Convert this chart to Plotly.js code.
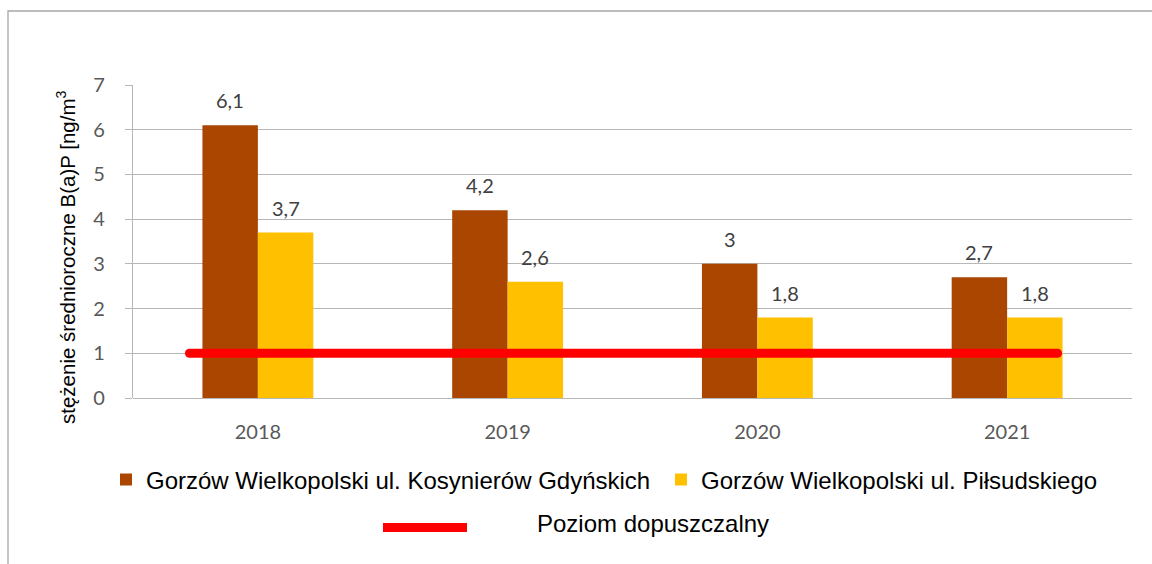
<!DOCTYPE html>
<html>
<head>
<meta charset="utf-8">
<script src="https://cdn.plot.ly/plotly-3.0.1.min.js"></script>
<style>
  html, body { margin: 0; padding: 0; background: #fff; }
  #chart { width: 1152px; height: 564px; }
  .scatterlayer .js-line { stroke-linecap: round; }
</style>
</head>
<body>
<div id="chart"></div>
<script>
// ---- data ----
const years = ["2018", "2019", "2020", "2021"];
const seriesNames = ["Gorzów Wielkopolski ul. Kosynierów Gdyńskich", "Gorzów Wielkopolski ul. Piłsudskiego"];
const kosynierow = [6.1, 4.2, 3.0, 2.7];
const pilsudskiego = [3.7, 2.6, 1.8, 1.8];
const limitName = "Poziom dopuszczalny";
const limitX = [-0.274, 3.202];   // extent of the limit line on the (hidden) secondary x axis
const limitY = [1, 1];
const yTicks = [0, 1, 2, 3, 4, 5, 6, 7];
const yTitle = "stężenie średnioroczne B(a)P [ng/m<sup>3</sup>";

// ---- layout constants ----
const W = 1152, H = 564;
const M = { l: 133, r: 20, t: 85, b: 166 };
const plotW = W - M.l - M.r, plotH = H - M.t - M.b;
const bargap = 0.556;
const catPx = plotW / years.length;
const barPx = catPx * (1 - bargap) / 2;
const px2x = p => (p - M.l) / plotW;
const py2y = p => (H - M.b - p) / plotH;

const brown = "#AA4600", yellow = "#FFC000", red = "#FF0000";
const grid = "#B7B7B7";
const arial = "'Liberation Sans', Arial, sans-serif";
const calib = "Lato, 'Open Sans', sans-serif";

const traces = [
  { type: "bar", name: seriesNames[0], x: years, y: kosynierow,
    marker: { color: brown }, hoverinfo: "y", legend: "legend" },
  { type: "bar", name: seriesNames[1], x: years, y: pilsudskiego,
    marker: { color: yellow }, hoverinfo: "y", legend: "legend2" },
  { type: "scatter", mode: "lines", name: limitName, x: limitX, y: limitY,
    xaxis: "x2", line: { color: red, width: 9 }, showlegend: false, hoverinfo: "y" }
];

const fmt = v => String(v).replace(".", ",");
const annotations = [];
[kosynierow, pilsudskiego].forEach((arr, si) => {
  arr.forEach((v, i) => {
    annotations.push({
      x: i, y: v, xref: "x2", yref: "y",
      text: fmt(v), showarrow: false, yanchor: "bottom",
      xshift: (si === 0 ? -1 : 1) * barPx / 2, yshift: 11,
      font: { family: calib, size: 20, color: "#404040" }
    });
  });
});
// custom legend entry for the limit line
annotations.push({
  xref: "paper", yref: "paper", x: px2x(535), y: py2y(523),
  xanchor: "left", yanchor: "middle", showarrow: false, text: limitName,
  font: { family: arial, size: 24, color: "#000" }
});
// y-axis title (placed as in the reference, slightly below the plot's centre)
annotations.push({
  xref: "paper", yref: "paper", x: px2x(66), y: py2y(257),
  xanchor: "center", yanchor: "middle", textangle: -90, showarrow: false,
  text: yTitle, font: { family: arial, size: 20.5, color: "#000" }
});

const legendBase = {
  orientation: "h", xanchor: "left", yanchor: "middle",
  font: { family: arial, size: 24, color: "#000" },
  bgcolor: "rgba(0,0,0,0)", itemclick: false, itemdoubleclick: false
};

const layout = {
  width: W, height: H,
  margin: M,
  paper_bgcolor: "#fff", plot_bgcolor: "#fff",
  barmode: "group", bargap: bargap, bargroupgap: 0,
  separators: ", ",
  showlegend: true,
  legend: Object.assign({}, legendBase, { x: px2x(106), y: py2y(480) }),
  legend2: Object.assign({}, legendBase, { x: px2x(661), y: py2y(480) }),
  xaxis: {
    type: "category", range: [-0.5, 3.5], showgrid: false, showline: false, ticks: "",
    tickfont: { family: calib, size: 20, color: "#595959" },
    ticklabelstandoff: 20, fixedrange: true
  },
  xaxis2: { overlaying: "x", range: [-0.5, 3.5], visible: false, fixedrange: true },
  yaxis: {
    range: [0, 7], tickvals: yTicks, ticktext: yTicks.map(String),
    showgrid: true, gridcolor: grid, gridwidth: 1.3,
    zeroline: true, zerolinecolor: grid, zerolinewidth: 1.3,
    showline: true, linecolor: grid, linewidth: 1.3,
    ticks: "outside", ticklen: 7, tickcolor: grid, tickwidth: 1.3,
    tickfont: { family: calib, size: 20, color: "#595959" },
    ticklabelstandoff: 16, fixedrange: true
  },
  shapes: [
    // outer chart border (top & left visible)
    { type: "rect", xref: "paper", yref: "paper", layer: "below",
      x0: px2x(8), x1: px2x(1200), y0: py2y(620), y1: py2y(11),
      line: { color: "#A6A6A6", width: 1.3 }, fillcolor: "rgba(0,0,0,0)" },
    // custom legend symbol for the limit line
    { type: "line", xref: "paper", yref: "paper",
      x0: px2x(383), x1: px2x(467), y0: py2y(527.5), y1: py2y(527.5),
      line: { color: red, width: 9 } }
  ],
  annotations: annotations,
  hovermode: "closest"
};

Plotly.newPlot("chart", traces, layout, { displayModeBar: false });
</script>
</body>
</html>
